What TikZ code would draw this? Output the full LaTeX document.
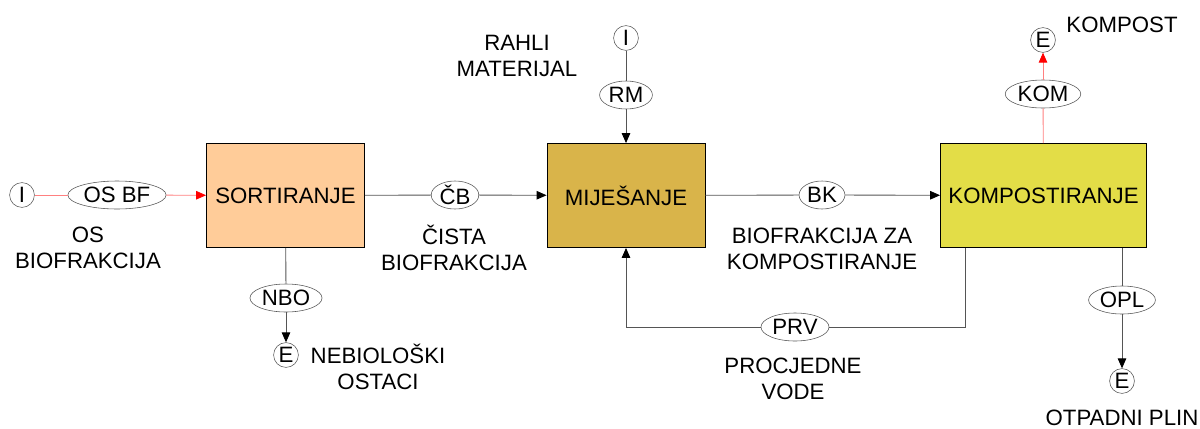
\documentclass[tikz,border=0pt]{standalone}
\usepackage{fontspec}
\setmainfont{Liberation Sans}
\usepackage{tikz}
\usetikzlibrary{arrows.meta, shapes.geometric}

\definecolor{sortfill}{HTML}{FFCC99}
\definecolor{mijfill}{HTML}{D9B44A}
\definecolor{kompfill}{HTML}{E3DD47}
\definecolor{linegray}{HTML}{555555}
\definecolor{pinkline}{HTML}{FF8080}

\begin{document}
\begin{tikzpicture}[
			x=0.025cm, y=-0.025cm,
			font=\fontsize{15.8}{18.5}\selectfont,
			proc/.style={draw, line width=0.6pt, minimum width=3.95cm, minimum height=2.6cm, align=center},
			flow/.style={draw=linegray, ellipse, fill=white, inner xsep=1pt, inner ysep=0pt, minimum height=0.7cm},
			term/.style={draw=linegray, circle, fill=white, inner sep=0pt, minimum size=0.62cm},
			lbl/.style={align=center, inner sep=0pt},
			line/.style={draw=linegray, line width=0.6pt},
			arrow/.style={line, -{Triangle[width=6pt,length=7pt,color=black]}},
			redline/.style={draw=pinkline, line width=0.6pt},
			redarrow/.style={redline, -{Triangle[width=6pt,length=7pt,color=red]}}
			]
			\useasboundingbox (0,0) rectangle (1200,428);
			
			% --- Process boxes ---
			\node[proc, fill=sortfill] (sort) at (285.5,195.5) {SORTIRANJE};
			\node[proc, fill=mijfill] (mij) at (626,195.5) {MIJEŠANJE};
			\node[proc, fill=kompfill, minimum width=5.15cm] (komp) at (1043.5,195.5) {KOMPOSTIRANJE};
			
			% --- Inputs / outputs ---
			\node[term] (in1) at (22,195) {I};
			\node[term] (in2) at (626,38) {I};
			\node[term] (out1) at (1043,40) {E};
			\node[term] (out2) at (286,355) {E};
			\node[term] (out3) at (1122,381) {E};
			
			% --- Flows ---
			\node[flow] (osbf) at (117,195) {OS BF};
			\node[flow] (cb) at (455,195) {ČB};
			\node[flow] (rm) at (626,95) {RM};
			\node[flow] (bk) at (822,195) {BK};
			\node[flow] (kom) at (1043,94) {KOM};
			\node[flow] (nbo) at (286,298) {NBO};
			\node[flow] (prv) at (795,327) {PRV};
			\node[flow] (opl) at (1122,300) {OPL};
			
			\coordinate (prvtop) at (965,248);
			\coordinate (opltop) at (1122,248);
			
			% --- Labels ---
			\node[lbl] (lbosbf) at (88,248) {OS\\BIOFRAKCIJA};
			\node[lbl] (lbcb) at (454,248) {ČISTA\\BIOFRAKCIJA};
			\node[lbl] (lbrm) at (517,56) {RAHLI\\MATERIJAL};
			\node[lbl] (lbbk) at (822,249) {BIOFRAKCIJA ZA\\KOMPOSTIRANJE};
			\node[lbl] (lbkom) at (1122,25) {KOMPOST};
			\node[lbl] (lbnbo) at (378,367) {NEBIOLOŠKI\\OSTACI};
			\node[lbl] (lbprv) at (793,379) {PROCJEDNE\\VODE};
			\node[lbl] (lbopl) at (1122,418) {OTPADNI PLIN};
			
			% --- Arrows ---
			\draw[redline] (in1) -- (osbf);
			\draw[redarrow] (osbf) -- (sort);
			\draw[line] (sort) -- (cb);
			\draw[arrow] (cb) -- (mij);
			\draw[line] (in2) -- (rm);
			\draw[arrow] (rm) -- (mij);
			\draw[line] (mij) -- (bk);
			\draw[arrow] (bk) -- (komp);
			\draw[redline] (komp) -- (kom);
			\draw[redarrow] (kom) -- (out1);
			\draw[line] (sort) -- (nbo);
			\draw[arrow] (nbo) -- (out2);
			\draw[line] (prvtop) |- (prv);
			\draw[arrow] (prv) -| (mij.south);
			\draw[line] (opltop) -- (opl);
			\draw[arrow] (opl) -- (out3);
	\end{tikzpicture}
\end{document}
